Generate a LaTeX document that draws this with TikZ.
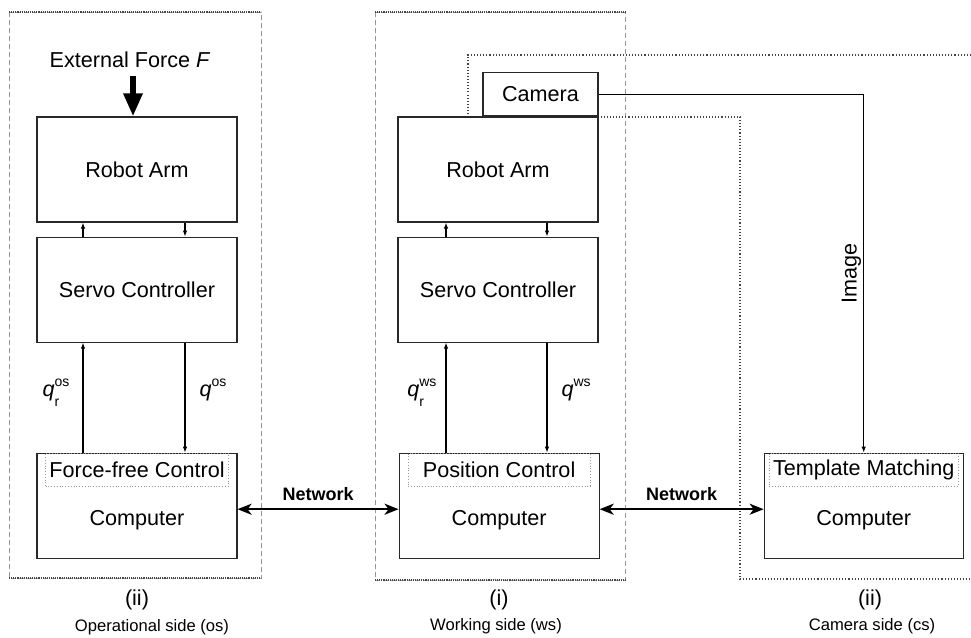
\documentclass[tikz,border=0pt]{standalone}
\usepackage{fontspec}
\setmainfont{Liberation Sans}
\usepackage{xcolor}
\usepackage{tikz}
\usetikzlibrary{arrows.meta, positioning, calc}
\definecolor{framegray}{RGB}{150, 150, 150}
\definecolor{zonegray}{RGB}{70, 70, 70}
\definecolor{boxdark}{RGB}{40, 40, 40}
\newcommand{\qlab}[2]{\textit{q}{\fontsize{14}{14}\selectfont\rlap{\raisebox{0.75em}{#1}}\rlap{\raisebox{-0.7em}{#2}}\phantom{#1}}}

\begin{document}
\begin{tikzpicture}[
    x=1pt, y=-1pt,
    node distance=14pt and 14pt,
    every node/.style={font=\fontsize{21.6}{25}\selectfont},
    block/.style={rectangle, draw=boxdark, line width=1.1pt, minimum width=200pt, minimum height=105pt, inner sep=0pt, align=center},
    innerbox/.style={rectangle, draw=framegray, dotted, line width=0.8pt, minimum height=33pt, inner sep=0pt},
    sig/.style={-{Latex[length=6pt, width=4.5pt]}, line width=1.1pt},
    netarrow/.style={{Stealth[length=14pt, width=11pt, inset=4pt]}-{Stealth[length=14pt, width=11pt, inset=4pt]}, line width=2.4pt},
    force/.style={-{Triangle[length=23pt, width=18pt]}, line width=6pt},
    qlbl/.style={inner sep=1pt},
    netlbl/.style={font=\fontsize{18}{20}\selectfont\bfseries, inner sep=3pt},
    sidelbl/.style={font=\fontsize{16.6}{19}\selectfont},
    paneldash/.style={draw=framegray, dashed, line width=0.9pt, dash pattern=on 5pt off 3pt},
    paneldot/.style={draw=zonegray, densely dotted, line width=1.1pt},
    zonedot/.style={draw=zonegray, dotted, line width=1.1pt}
]
\useasboundingbox (0,0) rectangle (971,637);

% Side frames
\draw[paneldash] (9,12) rectangle (261,578);
\draw[paneldot] (9,12) -- (261,12) (9,578) -- (261,578);
\draw[paneldash] (375,12) rectangle (625,580);
\draw[paneldot] (375,12) -- (625,12) (375,580) -- (625,580);
\draw[zonedot] (971,55) -| (468,117) -- (740,117) |- (971,579);

% Operational side
\node[block] (armos) at (137,169.5) {Robot Arm};
\node[block, below=of armos] (servoos) {Servo Controller};
\node[block, below=110pt of servoos] (compos) {};
\node[innerbox, minimum width=183pt, below=0pt of compos.north] (ffctrl) {Force-free Control};
\node (compostxt) at ($(compos.center)+(0,14)$) {Computer};

% Working side
\node[block] (armws) at (498,169.5) {Robot Arm};
\node[block, below=of armws] (servows) {Servo Controller};
\node[block, right=161pt of compos] (compws) {};
\node[innerbox, minimum width=182pt, below=0pt of compws.north] (posctrl) {Position Control};
\node (compwstxt) at ($(compws.center)+(0,14)$) {Computer};
\node[block, minimum width=115pt, minimum height=43pt, anchor=south east] (camera) at (armws.north east) {Camera};

% Camera side
\node[block, minimum width=199pt, right=164pt of compws] (compcs) {};
\node[innerbox, minimum width=189pt, below=0pt of compcs.north] (tmatch) {Template Matching};
\node (compcstxt) at ($(compcs.center)+(0,14)$) {Computer};

% External force
\node (fext) at (130,60) {External Force \textit{F}};
\coordinate (ftail) at (133,76);
\draw[force] (ftail) -- (ftail |- armos.north);

% Signal lines
\coordinate (uos) at (83,0);
\coordinate (dos) at (185,0);
\coordinate (uws) at (446,0);
\coordinate (dws) at (547,0);
\draw[sig] (servoos.north -| uos) -- (armos.south -| uos);
\draw[sig] (armos.south -| dos) -- (servoos.north -| dos);
\draw[sig] (compos.north -| uos) -- node[qlbl, left=12pt, yshift=5pt] (qros) {\qlab{os}{r}} (servoos.south -| uos);
\draw[sig] (servoos.south -| dos) -- node[qlbl, right=13pt, yshift=5pt] (qos) {\qlab{os}{}} (compos.north -| dos);
\draw[sig] (servows.north -| uws) -- (armws.south -| uws);
\draw[sig] (armws.south -| dws) -- (servows.north -| dws);
\draw[sig] (compws.north -| uws) -- node[qlbl, left=8pt, yshift=5pt] (qrws) {\qlab{ws}{r}} (servows.south -| uws);
\draw[sig] (servows.south -| dws) -- node[qlbl, right=13pt, yshift=5pt] (qws) {\qlab{ws}{}} (compws.north -| dws);

% Image path
\draw[sig] (camera.east) -| node[pos=0.75, rotate=90, above, inner sep=2pt] (imglbl) {Image} (compcs.north);

% Networks
\draw[netarrow] ([yshift=-3.5pt]compos.east) -- node[netlbl, above=4pt] (net1) {Network} ([yshift=-3.5pt]compws.west);
\draw[netarrow] ([yshift=-3.5pt]compws.east) -- node[netlbl, above=4pt] (net2) {Network} ([yshift=-3.5pt]compcs.west);

% Side labels
\node (osnum) at (137,600) {(ii)};
\node[sidelbl] (oslbl) at (152,627) {Operational side (os)};
\node (wsnum) at (499,600) {(i)};
\node[sidelbl] (wslbl) at (496,626) {Working side (ws)};
\node (csnum) at (870,600) {(ii)};
\node[sidelbl] (cslbl) at (872,626) {Camera side (cs)};

\end{tikzpicture}
\end{document}
